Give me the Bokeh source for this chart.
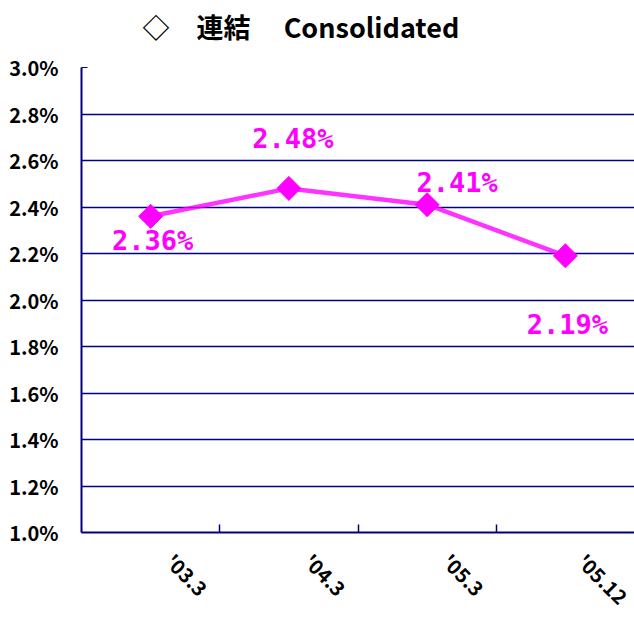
import math
from bokeh.plotting import figure
from bokeh.models import FixedTicker, Range1d, ColumnDataSource, Title
from bokeh.core.properties import value
from bokeh.embed import file_html
from bokeh.resources import INLINE

categories = ["'03.3", "'04.3", "'05.3", "'05.12"]
ratios = [2.36, 2.48, 2.41, 2.19]
y_ticks = [1.0, 1.2, 1.4, 1.6, 1.8, 2.0, 2.2, 2.4, 2.6, 2.8, 3.0]
title_text = "◇\u3000連結\u3000\u00a0Consolidated"

MAG = "#FF00FF"
NAVY = "#000080"
FONT = "Noto Sans CJK JP"

xs = [i + 0.5 for i in range(len(categories))]
label_shift = 0.14
label_pos = [x + label_shift for x in xs]
labels = ["%.2f%%" % v for v in ratios]
lab_dx = [2, 4, 30, 2]
lab_dy = [24, -50, -22, 69]

src = ColumnDataSource(dict(x=xs, y=ratios, lab=labels, dx=lab_dx, dy=lab_dy))

p = figure(width=634, height=623, output_backend="svg", toolbar_location=None,
           x_range=Range1d(0, len(categories)), y_range=Range1d(y_ticks[0], y_ticks[-1]),
           min_border_left=81, min_border_right=0, min_border_top=67, min_border_bottom=91)
p.outline_line_color = None
p.background_fill_color = "white"
p.border_fill_color = "white"

# spacer between title and plot area
p.add_layout(Title(text="\u00a0", text_font_size="1px", standoff=19), "above")

p.title.text = title_text
p.title.text_font = FONT
p.title.text_font_size = "27px"
p.title.text_font_style = "bold"
p.title.align = "left"
p.title.offset = 61
p.title.standoff = 0
p.title.text_color = "black"

# y axis
p.yaxis.ticker = FixedTicker(ticks=y_ticks)
p.yaxis.major_label_overrides = {t: "%.1f%%" % t for t in y_ticks}
p.yaxis.axis_line_color = NAVY
p.yaxis.axis_line_width = 2
p.yaxis.major_tick_line_color = NAVY
p.yaxis.major_tick_in = 6
p.yaxis.major_tick_out = 0
p.yaxis.minor_tick_line_color = None
p.yaxis.major_label_text_font = FONT
p.yaxis.major_label_text_font_style = "bold"
p.yaxis.major_label_text_font_size = "20px"
p.yaxis.major_label_text_color = "black"
p.yaxis.major_label_standoff = 23

# x axis
p.xaxis.ticker = FixedTicker(ticks=label_pos, minor_ticks=[1, 2, 3])
p.xaxis.major_label_overrides = {x: c for x, c in zip(label_pos, categories)}
p.xaxis.axis_line_color = NAVY
p.xaxis.axis_line_width = 2
p.xaxis.major_tick_line_color = None
p.xaxis.minor_tick_line_color = NAVY
p.xaxis.minor_tick_line_width = 1.5
p.xaxis.minor_tick_in = 8
p.xaxis.minor_tick_out = 0
p.xaxis.major_label_orientation = -math.pi / 4
p.xaxis.major_label_text_font = FONT
p.xaxis.major_label_text_font_style = "bold"
p.xaxis.major_label_text_font_size = "20px"
p.xaxis.major_label_text_color = "black"
p.xaxis.major_label_standoff = 19

p.xgrid.grid_line_color = None
p.ygrid.ticker = FixedTicker(ticks=y_ticks)
p.ygrid.grid_line_color = NAVY
p.ygrid.grid_line_width = 1.5

p.line("x", "y", source=src, line_color=MAG, line_width=4.5, line_alpha=0.8)
p.scatter("x", "y", source=src, marker="square", angle=math.pi / 4, size=17,
          fill_color=MAG, line_color=MAG)
p.text("x", "y", text="lab", source=src, x_offset="dx", y_offset="dy",
       text_align="center", text_baseline="middle", text_color=MAG,
       text_font=value("DejaVu Sans Mono"), text_font_style="bold", text_font_size="27px")

open("out.html", "w").write(file_html(p, INLINE))
